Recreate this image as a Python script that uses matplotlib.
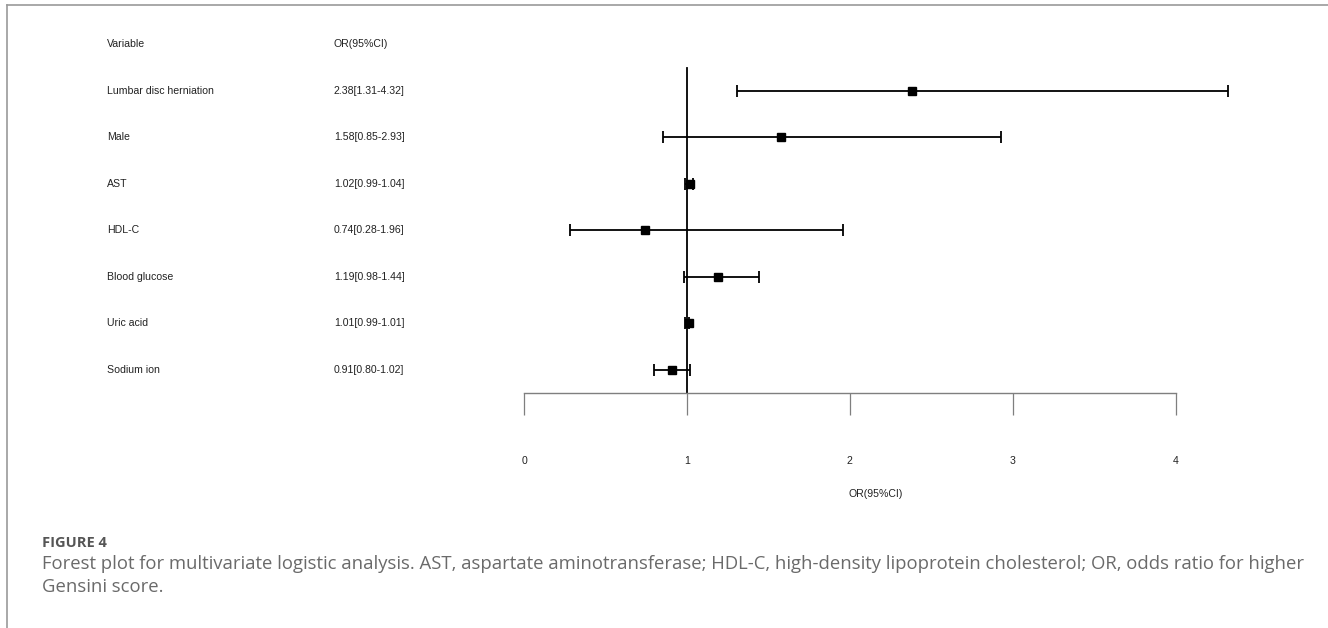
import matplotlib
matplotlib.use("Agg")
import matplotlib.pyplot as plt
from matplotlib.lines import Line2D
from matplotlib.transforms import blended_transform_factory

# Daten aus der Abbildung
variables = ["Lumbar disc herniation", "Male", "AST", "HDL-C",
             "Blood glucose", "Uric acid", "Sodium ion"]
or_vals = [2.38, 1.58, 1.02, 0.74, 1.19, 1.01, 0.91]
ci_low = [1.31, 0.85, 0.99, 0.28, 0.98, 0.99, 0.80]
ci_high = [4.32, 2.93, 1.04, 1.96, 1.44, 1.01, 1.02]
x_ticks = [0, 1, 2, 3, 4]

caption_head = "FIGURE 4"
caption_lines = [
    "Forest plot for multivariate logistic analysis. AST, aspartate aminotransferase; "
    "HDL-C, high-density lipoprotein cholesterol; OR, odds ratio for higher",
    "Gensini score.",
]

W, H = 1328, 628
plt.rcParams['font.family'] = ['Liberation Sans', 'DejaVu Sans']

fig = plt.figure(figsize=(W / 100, H / 100), dpi=100)
# Grafikbereich: 0 bei px 524, 4.32 bei px 1228
ax = fig.add_axes([524 / W, 1 - 393 / H, 704 / W, 372 / H])

rows = list(range(1, len(variables) + 1))
xerr = [[o - l for o, l in zip(or_vals, ci_low)],
        [h - o for o, h in zip(or_vals, ci_high)]]

ax.plot([1, 1], [0.5, len(variables) + 0.5], color='black', lw=1.3, zorder=1)
ax.errorbar(or_vals, rows, xerr=xerr, fmt='s', color='black', ms=6,
            elinewidth=1.3, capsize=4, capthick=1.3, zorder=2)

ax.set_xlim(0, max(ci_high))
ax.set_ylim(len(variables) + 0.5, -0.5)
ax.set_xticks(x_ticks)
ax.set_xticklabels([str(t) for t in x_ticks])
ax.set_yticks([])
for s in ['top', 'right', 'left']:
    ax.spines[s].set_visible(False)
ax.spines['bottom'].set_bounds(x_ticks[0], x_ticks[-1])
ax.spines['bottom'].set_color('#7f7f7f')
ax.spines['bottom'].set_linewidth(1.0)
ax.tick_params(axis='x', direction='out', length=16, width=0.9, color='#7f7f7f',
               pad=29, labelsize=7.6, labelcolor='#222222')
ax.set_xlabel('OR(95%CI)', fontsize=7.6, color='#222222', labelpad=17)

# Textspalten links
trans = blended_transform_factory(fig.transFigure, ax.transData)
ax.text(107 / W, 0, "Variable", transform=trans, va='center', ha='left',
        fontsize=7.6, color='#222222')
ax.text(334 / W, 0, "OR(95%CI)", transform=trans, va='center', ha='left',
        fontsize=7.6, color='#222222')
for r, name, o, l, h in zip(rows, variables, or_vals, ci_low, ci_high):
    ax.text(107 / W, r, name, transform=trans, va='center', ha='left',
            fontsize=7.6, color='#222222')
    ax.text(334 / W, r, f"{o:.2f}[{l:.2f}-{h:.2f}]", transform=trans,
            va='center', ha='left', fontsize=7.6, color='#222222')

# Rahmen oben und links
fig.add_artist(Line2D([7 / W, 1], [1 - 5 / H, 1 - 5 / H], color='#9a9a9a', lw=1.2))
fig.add_artist(Line2D([7 / W, 7 / W], [0, 1 - 5 / H], color='#9a9a9a', lw=1.2))

# Bildunterschrift
cap_font = ['Open Sans', 'DejaVu Sans']
fig.text(42 / W, 1 - 543 / H, caption_head, fontsize=10.5, fontweight='bold',
         color='#555555', family=cap_font, va='center')
fig.text(42 / W, 1 - 564 / H, caption_lines[0], fontsize=13.3, color='#6a6a6a',
         family=cap_font, va='center')
fig.text(42 / W, 1 - 587 / H, caption_lines[1], fontsize=13.3, color='#6a6a6a',
         family=cap_font, va='center')

fig.savefig('out.png', dpi=100)
